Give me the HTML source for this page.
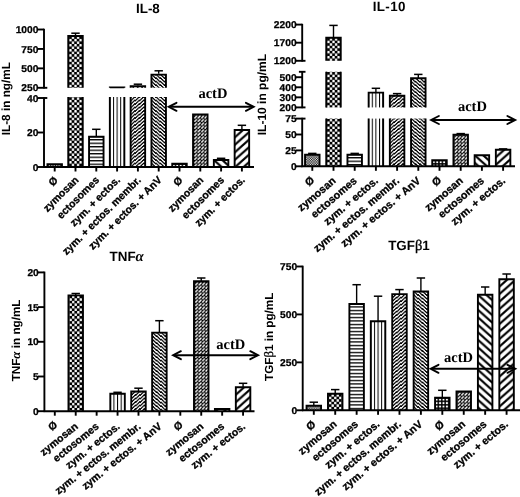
<!DOCTYPE html>
<html><head><meta charset="utf-8"><title>Cytokine release</title>
<style>
html,body{margin:0;padding:0;background:#fff;}
body{width:520px;height:497px;overflow:hidden;}
svg{display:block;will-change:transform;}
text{font-family:"Liberation Sans",sans-serif;font-weight:bold;fill:#000;text-rendering:geometricPrecision;}
.tt{font-size:13.4px;}
.yl{font-size:11.4px;}
.tk{font-size:9.9px;stroke:#000;stroke-width:0.25px;}
.xl{font-size:10.3px;stroke:#000;stroke-width:0.3px;}
.act{font-family:"Liberation Serif",serif;font-size:14.5px;font-weight:bold;}
.al{font-family:"Liberation Serif",serif;font-weight:bold;font-style:italic;font-size:14.8px;}
.aly{font-family:"Liberation Serif",serif;font-weight:bold;font-style:italic;font-size:13px;}
.be{font-family:"Liberation Serif",serif;font-weight:normal;font-size:14.5px;stroke:#000;stroke-width:0.35px;}
.bey{font-family:"Liberation Serif",serif;font-weight:normal;font-size:12.8px;stroke:#000;stroke-width:0.3px;}
</style></head>
<body>
<svg width="520" height="497" viewBox="0 0 520 497">
<rect x="0" y="0" width="520" height="497" fill="#fff"/>
<defs><pattern id="p1" width="1.7" height="1.7" patternUnits="userSpaceOnUse" patternTransform="translate(47.45,164.30)"><rect width="1.7" height="1.7" fill="#fff"/><rect x="0" y="0" width="0.85" height="0.85" fill="#000"/><rect x="0.85" y="0.85" width="0.85" height="0.85" fill="#000"/></pattern><pattern id="p2" width="5.1" height="5.1" patternUnits="userSpaceOnUse" patternTransform="translate(66.60,97.30)"><rect width="5.1" height="5.1" fill="#000"/><rect x="0.1" y="0.1" width="2.3499999999999996" height="2.3499999999999996" rx="0.4" fill="#fff"/><rect x="2.65" y="2.65" width="2.3499999999999996" height="2.3499999999999996" rx="0.4" fill="#fff"/></pattern><pattern id="p3" width="5.1" height="5.1" patternUnits="userSpaceOnUse" patternTransform="translate(66.60,36.30)"><rect width="5.1" height="5.1" fill="#000"/><rect x="0.1" y="0.1" width="2.3499999999999996" height="2.3499999999999996" rx="0.4" fill="#fff"/><rect x="2.65" y="2.65" width="2.3499999999999996" height="2.3499999999999996" rx="0.4" fill="#fff"/></pattern><pattern id="p4" width="4" height="3.5" patternUnits="userSpaceOnUse" patternTransform="translate(89.05,139.10)"><rect width="4" height="3.5" fill="#fff"/><rect x="0" y="0" width="4" height="1.3" fill="#000"/></pattern><pattern id="p5" width="3.62" height="4" patternUnits="userSpaceOnUse" patternTransform="translate(112.97,97.00)"><rect width="3.62" height="4" fill="#fff"/><rect x="0" y="0" width="1.0" height="4" fill="#000"/></pattern><pattern id="p6" width="3.62" height="4" patternUnits="userSpaceOnUse" patternTransform="translate(112.97,87.40)"><rect width="3.62" height="4" fill="#fff"/><rect x="0" y="0" width="1.0" height="4" fill="#000"/></pattern><pattern id="p7" width="4.4" height="3.5" patternUnits="userSpaceOnUse" patternTransform="translate(130.65,97.00)"><rect width="4.4" height="3.5" fill="#fff"/><path d="M-4.4,3.5 L4.4,-3.5 M0,3.5 L4.4,0 M0,7.0 L8.8,0" stroke="#000" stroke-width="1.4" shape-rendering="crispEdges"/></pattern><pattern id="p8" width="4.4" height="3.5" patternUnits="userSpaceOnUse" patternTransform="translate(130.65,86.20)"><rect width="4.4" height="3.5" fill="#fff"/><path d="M-4.4,3.5 L4.4,-3.5 M0,3.5 L4.4,0 M0,7.0 L8.8,0" stroke="#000" stroke-width="1.4" shape-rendering="crispEdges"/></pattern><pattern id="p9" width="4.4" height="3.5" patternUnits="userSpaceOnUse" patternTransform="translate(151.45,97.00)"><rect width="4.4" height="3.5" fill="#fff"/><path d="M-4.4,-3.5 L4.4,3.5 M0,-3.5 L8.8,3.5 M-4.4,0 L4.4,7.0" stroke="#000" stroke-width="1.4" shape-rendering="crispEdges"/></pattern><pattern id="p10" width="4.4" height="3.5" patternUnits="userSpaceOnUse" patternTransform="translate(151.45,74.60)"><rect width="4.4" height="3.5" fill="#fff"/><path d="M-4.4,-3.5 L4.4,3.5 M0,-3.5 L8.8,3.5 M-4.4,0 L4.4,7.0" stroke="#000" stroke-width="1.4" shape-rendering="crispEdges"/></pattern><pattern id="p11" width="3.45" height="3.45" patternUnits="userSpaceOnUse" patternTransform="translate(172.05,164.00)"><rect width="3.45" height="3.45" fill="#000"/><rect x="0.75" y="0.75" width="1.9500000000000002" height="1.9500000000000002" fill="#fff"/></pattern><pattern id="p12" width="3.45" height="3.45" patternUnits="userSpaceOnUse" patternTransform="translate(193.95,115.20)"><rect width="3.45" height="3.45" fill="#000"/><path d="M0.85,2.65 L2.65,0.85" stroke="#fff" stroke-width="1.4" stroke-linecap="round"/></pattern><pattern id="p13" width="8.4" height="7.5" patternUnits="userSpaceOnUse" patternTransform="translate(213.85,160.00)"><rect width="8.4" height="7.5" fill="#fff"/><path d="M-8.4,-7.5 L8.4,7.5 M0,-7.5 L16.8,7.5 M-8.4,0 L8.4,15.0" stroke="#000" stroke-width="2.15"/></pattern><pattern id="p14" width="8.4" height="7.5" patternUnits="userSpaceOnUse" patternTransform="translate(234.65,130.00)"><rect width="8.4" height="7.5" fill="#fff"/><path d="M-8.4,7.5 L8.4,-7.5 M0,7.5 L8.4,0 M0,15.0 L16.8,0" stroke="#000" stroke-width="2.15"/></pattern><pattern id="p15" width="1.7" height="1.7" patternUnits="userSpaceOnUse" patternTransform="translate(305.05,154.80)"><rect width="1.7" height="1.7" fill="#fff"/><rect x="0" y="0" width="0.85" height="0.85" fill="#000"/><rect x="0.85" y="0.85" width="0.85" height="0.85" fill="#000"/></pattern><pattern id="p16" width="5.1" height="5.1" patternUnits="userSpaceOnUse" patternTransform="translate(324.60,118.90)"><rect width="5.1" height="5.1" fill="#000"/><rect x="0.1" y="0.1" width="2.3499999999999996" height="2.3499999999999996" rx="0.4" fill="#fff"/><rect x="2.65" y="2.65" width="2.3499999999999996" height="2.3499999999999996" rx="0.4" fill="#fff"/></pattern><pattern id="p17" width="5.1" height="5.1" patternUnits="userSpaceOnUse" patternTransform="translate(324.60,72.10)"><rect width="5.1" height="5.1" fill="#000"/><rect x="0.1" y="0.1" width="2.3499999999999996" height="2.3499999999999996" rx="0.4" fill="#fff"/><rect x="2.65" y="2.65" width="2.3499999999999996" height="2.3499999999999996" rx="0.4" fill="#fff"/></pattern><pattern id="p18" width="5.1" height="5.1" patternUnits="userSpaceOnUse" patternTransform="translate(324.60,38.10)"><rect width="5.1" height="5.1" fill="#000"/><rect x="0.1" y="0.1" width="2.3499999999999996" height="2.3499999999999996" rx="0.4" fill="#fff"/><rect x="2.65" y="2.65" width="2.3499999999999996" height="2.3499999999999996" rx="0.4" fill="#fff"/></pattern><pattern id="p19" width="4" height="3.5" patternUnits="userSpaceOnUse" patternTransform="translate(347.45,157.10)"><rect width="4" height="3.5" fill="#fff"/><rect x="0" y="0" width="4" height="1.3" fill="#000"/></pattern><pattern id="p20" width="3.62" height="4" patternUnits="userSpaceOnUse" patternTransform="translate(371.77,118.60)"><rect width="3.62" height="4" fill="#fff"/><rect x="0" y="0" width="1.0" height="4" fill="#000"/></pattern><pattern id="p21" width="3.62" height="4" patternUnits="userSpaceOnUse" patternTransform="translate(371.77,92.60)"><rect width="3.62" height="4" fill="#fff"/><rect x="0" y="0" width="1.0" height="4" fill="#000"/></pattern><pattern id="p22" width="4.4" height="3.5" patternUnits="userSpaceOnUse" patternTransform="translate(389.85,118.60)"><rect width="4.4" height="3.5" fill="#fff"/><path d="M-4.4,3.5 L4.4,-3.5 M0,3.5 L4.4,0 M0,7.0 L8.8,0" stroke="#000" stroke-width="1.4" shape-rendering="crispEdges"/></pattern><pattern id="p23" width="4.4" height="3.5" patternUnits="userSpaceOnUse" patternTransform="translate(389.85,95.80)"><rect width="4.4" height="3.5" fill="#fff"/><path d="M-4.4,3.5 L4.4,-3.5 M0,3.5 L4.4,0 M0,7.0 L8.8,0" stroke="#000" stroke-width="1.4" shape-rendering="crispEdges"/></pattern><pattern id="p24" width="4.4" height="3.5" patternUnits="userSpaceOnUse" patternTransform="translate(411.05,118.60)"><rect width="4.4" height="3.5" fill="#fff"/><path d="M-4.4,-3.5 L4.4,3.5 M0,-3.5 L8.8,3.5 M-4.4,0 L4.4,7.0" stroke="#000" stroke-width="1.4" shape-rendering="crispEdges"/></pattern><pattern id="p25" width="4.4" height="3.5" patternUnits="userSpaceOnUse" patternTransform="translate(411.05,78.20)"><rect width="4.4" height="3.5" fill="#fff"/><path d="M-4.4,-3.5 L4.4,3.5 M0,-3.5 L8.8,3.5 M-4.4,0 L4.4,7.0" stroke="#000" stroke-width="1.4" shape-rendering="crispEdges"/></pattern><pattern id="p26" width="3.45" height="3.45" patternUnits="userSpaceOnUse" patternTransform="translate(432.05,160.40)"><rect width="3.45" height="3.45" fill="#000"/><rect x="0.75" y="0.75" width="1.9500000000000002" height="1.9500000000000002" fill="#fff"/></pattern><pattern id="p27" width="3.45" height="3.45" patternUnits="userSpaceOnUse" patternTransform="translate(454.35,135.60)"><rect width="3.45" height="3.45" fill="#000"/><path d="M0.85,2.65 L2.65,0.85" stroke="#fff" stroke-width="1.4" stroke-linecap="round"/></pattern><pattern id="p28" width="8.4" height="7.5" patternUnits="userSpaceOnUse" patternTransform="translate(474.65,155.20)"><rect width="8.4" height="7.5" fill="#fff"/><path d="M-8.4,-7.5 L8.4,7.5 M0,-7.5 L16.8,7.5 M-8.4,0 L8.4,15.0" stroke="#000" stroke-width="2.15"/></pattern><pattern id="p29" width="8.4" height="7.5" patternUnits="userSpaceOnUse" patternTransform="translate(495.85,149.80)"><rect width="8.4" height="7.5" fill="#fff"/><path d="M-8.4,7.5 L8.4,-7.5 M0,7.5 L8.4,0 M0,15.0 L16.8,0" stroke="#000" stroke-width="2.15"/></pattern><pattern id="p30" width="5.1" height="5.1" patternUnits="userSpaceOnUse" patternTransform="translate(66.82,295.70)"><rect width="5.1" height="5.1" fill="#000"/><rect x="0.1" y="0.1" width="2.3499999999999996" height="2.3499999999999996" rx="0.4" fill="#fff"/><rect x="2.65" y="2.65" width="2.3499999999999996" height="2.3499999999999996" rx="0.4" fill="#fff"/></pattern><pattern id="p31" width="3.62" height="4" patternUnits="userSpaceOnUse" patternTransform="translate(113.43,393.80)"><rect width="3.62" height="4" fill="#fff"/><rect x="0" y="0" width="1.0" height="4" fill="#000"/></pattern><pattern id="p32" width="4.4" height="3.5" patternUnits="userSpaceOnUse" patternTransform="translate(131.23,391.50)"><rect width="4.4" height="3.5" fill="#fff"/><path d="M-4.4,3.5 L4.4,-3.5 M0,3.5 L4.4,0 M0,7.0 L8.8,0" stroke="#000" stroke-width="1.4" shape-rendering="crispEdges"/></pattern><pattern id="p33" width="4.4" height="3.5" patternUnits="userSpaceOnUse" patternTransform="translate(152.15,332.60)"><rect width="4.4" height="3.5" fill="#fff"/><path d="M-4.4,-3.5 L4.4,3.5 M0,-3.5 L8.8,3.5 M-4.4,0 L4.4,7.0" stroke="#000" stroke-width="1.4" shape-rendering="crispEdges"/></pattern><pattern id="p34" width="3.45" height="3.45" patternUnits="userSpaceOnUse" patternTransform="translate(194.89,282.10)"><rect width="3.45" height="3.45" fill="#000"/><path d="M0.85,2.65 L2.65,0.85" stroke="#fff" stroke-width="1.4" stroke-linecap="round"/></pattern><pattern id="p35" width="8.4" height="7.5" patternUnits="userSpaceOnUse" patternTransform="translate(214.91,409.00)"><rect width="8.4" height="7.5" fill="#fff"/><path d="M-8.4,-7.5 L8.4,7.5 M0,-7.5 L16.8,7.5 M-8.4,0 L8.4,15.0" stroke="#000" stroke-width="2.15"/></pattern><pattern id="p36" width="8.4" height="7.5" patternUnits="userSpaceOnUse" patternTransform="translate(235.83,387.20)"><rect width="8.4" height="7.5" fill="#fff"/><path d="M-8.4,7.5 L8.4,-7.5 M0,7.5 L8.4,0 M0,15.0 L16.8,0" stroke="#000" stroke-width="2.15"/></pattern><pattern id="p37" width="1.7" height="1.7" patternUnits="userSpaceOnUse" patternTransform="translate(306.55,405.80)"><rect width="1.7" height="1.7" fill="#fff"/><rect x="0" y="0" width="0.85" height="0.85" fill="#000"/><rect x="0.85" y="0.85" width="0.85" height="0.85" fill="#000"/></pattern><pattern id="p38" width="5.1" height="5.1" patternUnits="userSpaceOnUse" patternTransform="translate(326.32,394.10)"><rect width="5.1" height="5.1" fill="#000"/><rect x="0.1" y="0.1" width="2.3499999999999996" height="2.3499999999999996" rx="0.4" fill="#fff"/><rect x="2.65" y="2.65" width="2.3499999999999996" height="2.3499999999999996" rx="0.4" fill="#fff"/></pattern><pattern id="p39" width="4" height="3.5" patternUnits="userSpaceOnUse" patternTransform="translate(349.39,306.30)"><rect width="4" height="3.5" fill="#fff"/><rect x="0" y="0" width="4" height="1.3" fill="#000"/></pattern><pattern id="p40" width="3.62" height="4" patternUnits="userSpaceOnUse" patternTransform="translate(373.93,321.20)"><rect width="3.62" height="4" fill="#fff"/><rect x="0" y="0" width="1.0" height="4" fill="#000"/></pattern><pattern id="p41" width="4.4" height="3.5" patternUnits="userSpaceOnUse" patternTransform="translate(392.23,294.10)"><rect width="4.4" height="3.5" fill="#fff"/><path d="M-4.4,3.5 L4.4,-3.5 M0,3.5 L4.4,0 M0,7.0 L8.8,0" stroke="#000" stroke-width="1.4" shape-rendering="crispEdges"/></pattern><pattern id="p42" width="4.4" height="3.5" patternUnits="userSpaceOnUse" patternTransform="translate(413.65,291.50)"><rect width="4.4" height="3.5" fill="#fff"/><path d="M-4.4,-3.5 L4.4,3.5 M0,-3.5 L8.8,3.5 M-4.4,0 L4.4,7.0" stroke="#000" stroke-width="1.4" shape-rendering="crispEdges"/></pattern><pattern id="p43" width="3.45" height="3.45" patternUnits="userSpaceOnUse" patternTransform="translate(434.87,397.90)"><rect width="3.45" height="3.45" fill="#000"/><rect x="0.75" y="0.75" width="1.9500000000000002" height="1.9500000000000002" fill="#fff"/></pattern><pattern id="p44" width="3.45" height="3.45" patternUnits="userSpaceOnUse" patternTransform="translate(457.39,392.30)"><rect width="3.45" height="3.45" fill="#000"/><path d="M0.85,2.65 L2.65,0.85" stroke="#fff" stroke-width="1.4" stroke-linecap="round"/></pattern><pattern id="p45" width="8.4" height="7.5" patternUnits="userSpaceOnUse" patternTransform="translate(477.91,294.80)"><rect width="8.4" height="7.5" fill="#fff"/><path d="M-8.4,-7.5 L8.4,7.5 M0,-7.5 L16.8,7.5 M-8.4,0 L8.4,15.0" stroke="#000" stroke-width="2.15"/></pattern><pattern id="p46" width="8.4" height="7.5" patternUnits="userSpaceOnUse" patternTransform="translate(499.33,279.20)"><rect width="8.4" height="7.5" fill="#fff"/><path d="M-8.4,7.5 L8.4,-7.5 M0,7.5 L8.4,0 M0,15.0 L16.8,0" stroke="#000" stroke-width="2.15"/></pattern></defs>
<text x="147.9" y="13.1" text-anchor="middle" class="tt">IL-8</text>
<text transform="translate(10.0,98.65) rotate(-90)" text-anchor="middle" class="yl" style="font-size:11.8px">IL-8 in ng/mL</text>
<line x1="44.00" y1="28.70" x2="44.00" y2="88.60" stroke="#000" stroke-width="1.9"/>
<line x1="44.00" y1="97.20" x2="44.00" y2="167.80" stroke="#000" stroke-width="1.9"/>
<line x1="43.20" y1="167.00" x2="254.00" y2="167.00" stroke="#000" stroke-width="1.9"/>
<line x1="37.60" y1="29.50" x2="44.00" y2="29.50" stroke="#000" stroke-width="1.9"/>
<text transform="translate(38.40,33.10) scale(1.035,1)" text-anchor="end" class="tk">1000</text>
<line x1="37.60" y1="48.93" x2="44.00" y2="48.93" stroke="#000" stroke-width="1.9"/>
<text transform="translate(38.40,52.53) scale(1.035,1)" text-anchor="end" class="tk">750</text>
<line x1="37.60" y1="68.37" x2="44.00" y2="68.37" stroke="#000" stroke-width="1.9"/>
<text transform="translate(38.40,71.97) scale(1.035,1)" text-anchor="end" class="tk">500</text>
<line x1="37.60" y1="87.80" x2="47.30" y2="87.80" stroke="#000" stroke-width="1.9"/>
<text transform="translate(38.40,91.40) scale(1.035,1)" text-anchor="end" class="tk">250</text>
<line x1="37.60" y1="98.00" x2="47.30" y2="98.00" stroke="#000" stroke-width="1.9"/>
<text transform="translate(38.40,101.60) scale(1.035,1)" text-anchor="end" class="tk">40</text>
<line x1="37.60" y1="132.50" x2="44.00" y2="132.50" stroke="#000" stroke-width="1.9"/>
<text transform="translate(38.40,136.10) scale(1.035,1)" text-anchor="end" class="tk">20</text>
<line x1="37.60" y1="167.00" x2="44.00" y2="167.00" stroke="#000" stroke-width="1.9"/>
<text transform="translate(38.40,170.60) scale(1.035,1)" text-anchor="end" class="tk">0</text>
<rect x="47.45" y="164.30" width="14.50" height="2.70" fill="url(#p1)" stroke="none"/>
<path d="M47.45,167.00 L47.45,164.30 L61.95,164.30 L61.95,167.00" fill="none" stroke="#000" stroke-width="1.9" stroke-linejoin="miter"/>
<rect x="68.25" y="97.00" width="14.50" height="70.00" fill="url(#p2)" stroke="none"/>
<path d="M68.25,167.00 L68.25,97.00 M82.75,97.00 L82.75,167.00" fill="none" stroke="#000" stroke-width="1.9"/>
<line x1="75.50" y1="35.20" x2="75.50" y2="33.20" stroke="#000" stroke-width="1.4"/>
<line x1="71.30" y1="33.20" x2="79.70" y2="33.20" stroke="#000" stroke-width="1.5"/>
<rect x="68.25" y="36.00" width="14.50" height="51.80" fill="url(#p3)" stroke="none"/>
<path d="M68.25,87.80 L68.25,36.00 L82.75,36.00 L82.75,87.80" fill="none" stroke="#000" stroke-width="1.9" stroke-linejoin="miter"/>
<line x1="96.30" y1="136.00" x2="96.30" y2="129.30" stroke="#000" stroke-width="1.4"/>
<line x1="92.10" y1="129.30" x2="100.50" y2="129.30" stroke="#000" stroke-width="1.5"/>
<rect x="89.05" y="136.80" width="14.50" height="30.20" fill="url(#p4)" stroke="none"/>
<path d="M89.05,167.00 L89.05,136.80 L103.55,136.80 L103.55,167.00" fill="none" stroke="#000" stroke-width="1.9" stroke-linejoin="miter"/>
<rect x="109.85" y="97.00" width="14.50" height="70.00" fill="url(#p5)" stroke="none"/>
<path d="M109.85,167.00 L109.85,97.00 M124.35,97.00 L124.35,167.00" fill="none" stroke="#000" stroke-width="1.9"/>
<rect x="109.85" y="87.40" width="14.50" height="0.40" fill="url(#p6)" stroke="none"/>
<path d="M109.85,87.80 L109.85,87.40 L124.35,87.40 L124.35,87.80" fill="none" stroke="#000" stroke-width="1.9" stroke-linejoin="miter"/>
<rect x="130.65" y="97.00" width="14.50" height="70.00" fill="url(#p7)" stroke="none"/>
<path d="M130.65,167.00 L130.65,97.00 M145.15,97.00 L145.15,167.00" fill="none" stroke="#000" stroke-width="1.9"/>
<line x1="137.90" y1="85.40" x2="137.90" y2="84.20" stroke="#000" stroke-width="1.4"/>
<line x1="133.70" y1="84.20" x2="142.10" y2="84.20" stroke="#000" stroke-width="1.5"/>
<rect x="130.65" y="86.20" width="14.50" height="1.60" fill="url(#p8)" stroke="none"/>
<path d="M130.65,87.80 L130.65,86.20 L145.15,86.20 L145.15,87.80" fill="none" stroke="#000" stroke-width="1.9" stroke-linejoin="miter"/>
<rect x="151.45" y="97.00" width="14.50" height="70.00" fill="url(#p9)" stroke="none"/>
<path d="M151.45,167.00 L151.45,97.00 M165.95,97.00 L165.95,167.00" fill="none" stroke="#000" stroke-width="1.9"/>
<line x1="158.70" y1="73.80" x2="158.70" y2="70.80" stroke="#000" stroke-width="1.4"/>
<line x1="154.50" y1="70.80" x2="162.90" y2="70.80" stroke="#000" stroke-width="1.5"/>
<rect x="151.45" y="74.60" width="14.50" height="13.20" fill="url(#p10)" stroke="none"/>
<path d="M151.45,87.80 L151.45,74.60 L165.95,74.60 L165.95,87.80" fill="none" stroke="#000" stroke-width="1.9" stroke-linejoin="miter"/>
<rect x="172.25" y="163.80" width="14.50" height="3.20" fill="url(#p11)" stroke="none"/>
<path d="M172.25,167.00 L172.25,163.80 L186.75,163.80 L186.75,167.00" fill="none" stroke="#000" stroke-width="1.9" stroke-linejoin="miter"/>
<rect x="193.05" y="114.40" width="14.50" height="52.60" fill="url(#p12)" stroke="none"/>
<path d="M193.05,167.00 L193.05,114.40 L207.55,114.40 L207.55,167.00" fill="none" stroke="#000" stroke-width="1.9" stroke-linejoin="miter"/>
<line x1="221.10" y1="159.20" x2="221.10" y2="158.30" stroke="#000" stroke-width="1.4"/>
<line x1="216.90" y1="158.30" x2="225.30" y2="158.30" stroke="#000" stroke-width="1.5"/>
<rect x="213.85" y="160.00" width="14.50" height="7.00" fill="url(#p13)" stroke="none"/>
<path d="M213.85,167.00 L213.85,160.00 L228.35,160.00 L228.35,167.00" fill="none" stroke="#000" stroke-width="1.9" stroke-linejoin="miter"/>
<line x1="241.90" y1="129.20" x2="241.90" y2="125.30" stroke="#000" stroke-width="1.4"/>
<line x1="237.70" y1="125.30" x2="246.10" y2="125.30" stroke="#000" stroke-width="1.5"/>
<rect x="234.65" y="130.00" width="14.50" height="37.00" fill="url(#p14)" stroke="none"/>
<path d="M234.65,167.00 L234.65,130.00 L249.15,130.00 L249.15,167.00" fill="none" stroke="#000" stroke-width="1.9" stroke-linejoin="miter"/>
<line x1="43.20" y1="167.00" x2="254.00" y2="167.00" stroke="#000" stroke-width="1.9"/>
<line x1="54.70" y1="167.00" x2="54.70" y2="171.50" stroke="#000" stroke-width="1.9"/>
<text transform="translate(53.00,181.30) rotate(-45)" text-anchor="middle" class="xl" style="font-size:10.52px" dy="3.6">Ø</text>
<line x1="75.50" y1="167.00" x2="75.50" y2="171.50" stroke="#000" stroke-width="1.9"/>
<text transform="translate(79.20,180.60) rotate(-45)" text-anchor="end" class="xl" style="font-size:10.52px">zymosan</text>
<line x1="96.30" y1="167.00" x2="96.30" y2="171.50" stroke="#000" stroke-width="1.9"/>
<text transform="translate(100.00,180.60) rotate(-45)" text-anchor="end" class="xl" style="font-size:10.52px">ectosomes</text>
<line x1="117.10" y1="167.00" x2="117.10" y2="171.50" stroke="#000" stroke-width="1.9"/>
<text transform="translate(120.80,180.60) rotate(-45)" text-anchor="end" class="xl" style="font-size:10.52px">zym. + ectos.</text>
<line x1="137.90" y1="167.00" x2="137.90" y2="171.50" stroke="#000" stroke-width="1.9"/>
<text transform="translate(141.60,180.60) rotate(-45)" text-anchor="end" class="xl" style="font-size:10.52px">zym. + ectos. membr.</text>
<line x1="158.70" y1="167.00" x2="158.70" y2="171.50" stroke="#000" stroke-width="1.9"/>
<text transform="translate(162.40,180.60) rotate(-45)" text-anchor="end" class="xl" style="font-size:10.52px">zym. + ectos. + AnV</text>
<line x1="179.50" y1="167.00" x2="179.50" y2="171.50" stroke="#000" stroke-width="1.9"/>
<text transform="translate(177.80,181.30) rotate(-45)" text-anchor="middle" class="xl" style="font-size:10.52px" dy="3.6">Ø</text>
<line x1="200.30" y1="167.00" x2="200.30" y2="171.50" stroke="#000" stroke-width="1.9"/>
<text transform="translate(204.00,180.60) rotate(-45)" text-anchor="end" class="xl" style="font-size:10.52px">zymosan</text>
<line x1="221.10" y1="167.00" x2="221.10" y2="171.50" stroke="#000" stroke-width="1.9"/>
<text transform="translate(224.80,180.60) rotate(-45)" text-anchor="end" class="xl" style="font-size:10.52px">ectosomes</text>
<line x1="241.90" y1="167.00" x2="241.90" y2="171.50" stroke="#000" stroke-width="1.9"/>
<text transform="translate(245.60,180.60) rotate(-45)" text-anchor="end" class="xl" style="font-size:10.52px">zym. + ectos.</text>
<line x1="169.80" y1="106.80" x2="252.60" y2="106.80" stroke="#000" stroke-width="1.9"/>
<path d="M176.50,102.80 L168.70,106.80 L176.50,110.80" fill="none" stroke="#000" stroke-width="1.9" stroke-linejoin="miter" stroke-linecap="round"/>
<path d="M245.90,102.80 L253.70,106.80 L245.90,110.80" fill="none" stroke="#000" stroke-width="1.9" stroke-linejoin="miter" stroke-linecap="round"/>
<text x="212.90" y="97.50" text-anchor="middle" class="act">actD</text>
<text x="389.3" y="11.0" text-anchor="middle" class="tt" style="letter-spacing:0.4px">IL-10</text>
<text transform="translate(266.4,94.6) rotate(-90)" text-anchor="middle" class="yl" style="font-size:12px">IL-10 in pg/mL</text>
<line x1="302.20" y1="23.80" x2="302.20" y2="61.60" stroke="#000" stroke-width="1.9"/>
<line x1="302.20" y1="71.00" x2="302.20" y2="108.20" stroke="#000" stroke-width="1.9"/>
<line x1="302.20" y1="117.80" x2="302.20" y2="167.10" stroke="#000" stroke-width="1.9"/>
<line x1="295.80" y1="24.60" x2="302.20" y2="24.60" stroke="#000" stroke-width="1.9"/>
<text transform="translate(296.60,28.20) scale(1.035,1)" text-anchor="end" class="tk">2200</text>
<line x1="295.80" y1="42.70" x2="302.20" y2="42.70" stroke="#000" stroke-width="1.9"/>
<text transform="translate(296.60,46.30) scale(1.035,1)" text-anchor="end" class="tk">1700</text>
<line x1="295.80" y1="60.80" x2="305.50" y2="60.80" stroke="#000" stroke-width="1.9"/>
<text transform="translate(296.60,64.40) scale(1.035,1)" text-anchor="end" class="tk">1200</text>
<line x1="298.90" y1="71.80" x2="305.50" y2="71.80" stroke="#000" stroke-width="1.9"/>
<line x1="295.80" y1="77.20" x2="302.20" y2="77.20" stroke="#000" stroke-width="1.9"/>
<text transform="translate(296.60,80.80) scale(1.035,1)" text-anchor="end" class="tk">500</text>
<line x1="295.80" y1="87.27" x2="302.20" y2="87.27" stroke="#000" stroke-width="1.9"/>
<text transform="translate(296.60,90.87) scale(1.035,1)" text-anchor="end" class="tk">400</text>
<line x1="295.80" y1="97.33" x2="302.20" y2="97.33" stroke="#000" stroke-width="1.9"/>
<text transform="translate(296.60,100.93) scale(1.035,1)" text-anchor="end" class="tk">300</text>
<line x1="295.80" y1="107.40" x2="305.50" y2="107.40" stroke="#000" stroke-width="1.9"/>
<text transform="translate(296.60,111.00) scale(1.035,1)" text-anchor="end" class="tk">200</text>
<line x1="295.80" y1="118.60" x2="305.50" y2="118.60" stroke="#000" stroke-width="1.9"/>
<text transform="translate(296.60,122.20) scale(1.035,1)" text-anchor="end" class="tk">75</text>
<line x1="295.80" y1="134.50" x2="302.20" y2="134.50" stroke="#000" stroke-width="1.9"/>
<text transform="translate(296.60,138.10) scale(1.035,1)" text-anchor="end" class="tk">50</text>
<line x1="295.80" y1="150.40" x2="302.20" y2="150.40" stroke="#000" stroke-width="1.9"/>
<text transform="translate(296.60,154.00) scale(1.035,1)" text-anchor="end" class="tk">25</text>
<line x1="295.80" y1="166.30" x2="302.20" y2="166.30" stroke="#000" stroke-width="1.9"/>
<text transform="translate(296.60,169.90) scale(1.035,1)" text-anchor="end" class="tk">0</text>
<line x1="312.30" y1="154.60" x2="312.30" y2="153.40" stroke="#000" stroke-width="1.4"/>
<line x1="308.10" y1="153.40" x2="316.50" y2="153.40" stroke="#000" stroke-width="1.5"/>
<rect x="305.05" y="154.80" width="14.50" height="11.50" fill="url(#p15)" stroke="none"/>
<path d="M305.05,166.30 L305.05,154.80 L319.55,154.80 L319.55,166.30" fill="none" stroke="#000" stroke-width="1.9" stroke-linejoin="miter"/>
<rect x="326.25" y="118.60" width="14.50" height="47.70" fill="url(#p16)" stroke="none"/>
<path d="M326.25,166.30 L326.25,118.60 M340.75,118.60 L340.75,166.30" fill="none" stroke="#000" stroke-width="1.9"/>
<rect x="326.25" y="71.80" width="14.50" height="35.60" fill="url(#p17)" stroke="none"/>
<path d="M326.25,107.40 L326.25,71.80 M340.75,71.80 L340.75,107.40" fill="none" stroke="#000" stroke-width="1.9"/>
<line x1="333.50" y1="37.60" x2="333.50" y2="25.40" stroke="#000" stroke-width="1.4"/>
<line x1="329.30" y1="25.40" x2="337.70" y2="25.40" stroke="#000" stroke-width="1.5"/>
<rect x="326.25" y="37.80" width="14.50" height="23.00" fill="url(#p18)" stroke="none"/>
<path d="M326.25,60.80 L326.25,37.80 L340.75,37.80 L340.75,60.80" fill="none" stroke="#000" stroke-width="1.9" stroke-linejoin="miter"/>
<line x1="354.70" y1="154.60" x2="354.70" y2="153.40" stroke="#000" stroke-width="1.4"/>
<line x1="350.50" y1="153.40" x2="358.90" y2="153.40" stroke="#000" stroke-width="1.5"/>
<rect x="347.45" y="154.80" width="14.50" height="11.50" fill="url(#p19)" stroke="none"/>
<path d="M347.45,166.30 L347.45,154.80 L361.95,154.80 L361.95,166.30" fill="none" stroke="#000" stroke-width="1.9" stroke-linejoin="miter"/>
<rect x="368.65" y="118.60" width="14.50" height="47.70" fill="url(#p20)" stroke="none"/>
<path d="M368.65,166.30 L368.65,118.60 M383.15,118.60 L383.15,166.30" fill="none" stroke="#000" stroke-width="1.9"/>
<line x1="375.90" y1="92.40" x2="375.90" y2="88.30" stroke="#000" stroke-width="1.4"/>
<line x1="371.70" y1="88.30" x2="380.10" y2="88.30" stroke="#000" stroke-width="1.5"/>
<rect x="368.65" y="92.60" width="14.50" height="14.80" fill="url(#p21)" stroke="none"/>
<path d="M368.65,107.40 L368.65,92.60 L383.15,92.60 L383.15,107.40" fill="none" stroke="#000" stroke-width="1.9" stroke-linejoin="miter"/>
<rect x="389.85" y="118.60" width="14.50" height="47.70" fill="url(#p22)" stroke="none"/>
<path d="M389.85,166.30 L389.85,118.60 M404.35,118.60 L404.35,166.30" fill="none" stroke="#000" stroke-width="1.9"/>
<line x1="397.10" y1="95.60" x2="397.10" y2="93.60" stroke="#000" stroke-width="1.4"/>
<line x1="392.90" y1="93.60" x2="401.30" y2="93.60" stroke="#000" stroke-width="1.5"/>
<rect x="389.85" y="95.80" width="14.50" height="11.60" fill="url(#p23)" stroke="none"/>
<path d="M389.85,107.40 L389.85,95.80 L404.35,95.80 L404.35,107.40" fill="none" stroke="#000" stroke-width="1.9" stroke-linejoin="miter"/>
<rect x="411.05" y="118.60" width="14.50" height="47.70" fill="url(#p24)" stroke="none"/>
<path d="M411.05,166.30 L411.05,118.60 M425.55,118.60 L425.55,166.30" fill="none" stroke="#000" stroke-width="1.9"/>
<line x1="418.30" y1="78.00" x2="418.30" y2="74.40" stroke="#000" stroke-width="1.4"/>
<line x1="414.10" y1="74.40" x2="422.50" y2="74.40" stroke="#000" stroke-width="1.5"/>
<rect x="411.05" y="78.20" width="14.50" height="29.20" fill="url(#p25)" stroke="none"/>
<path d="M411.05,107.40 L411.05,78.20 L425.55,78.20 L425.55,107.40" fill="none" stroke="#000" stroke-width="1.9" stroke-linejoin="miter"/>
<rect x="432.25" y="160.20" width="14.50" height="6.10" fill="url(#p26)" stroke="none"/>
<path d="M432.25,166.30 L432.25,160.20 L446.75,160.20 L446.75,166.30" fill="none" stroke="#000" stroke-width="1.9" stroke-linejoin="miter"/>
<line x1="460.70" y1="134.60" x2="460.70" y2="133.60" stroke="#000" stroke-width="1.4"/>
<line x1="456.50" y1="133.60" x2="464.90" y2="133.60" stroke="#000" stroke-width="1.5"/>
<rect x="453.45" y="134.80" width="14.50" height="31.50" fill="url(#p27)" stroke="none"/>
<path d="M453.45,166.30 L453.45,134.80 L467.95,134.80 L467.95,166.30" fill="none" stroke="#000" stroke-width="1.9" stroke-linejoin="miter"/>
<rect x="474.65" y="155.20" width="14.50" height="11.10" fill="url(#p28)" stroke="none"/>
<path d="M474.65,166.30 L474.65,155.20 L489.15,155.20 L489.15,166.30" fill="none" stroke="#000" stroke-width="1.9" stroke-linejoin="miter"/>
<line x1="503.10" y1="149.60" x2="503.10" y2="148.90" stroke="#000" stroke-width="1.4"/>
<line x1="498.90" y1="148.90" x2="507.30" y2="148.90" stroke="#000" stroke-width="1.5"/>
<rect x="495.85" y="149.80" width="14.50" height="16.50" fill="url(#p29)" stroke="none"/>
<path d="M495.85,166.30 L495.85,149.80 L510.35,149.80 L510.35,166.30" fill="none" stroke="#000" stroke-width="1.9" stroke-linejoin="miter"/>
<line x1="301.40" y1="166.30" x2="515.00" y2="166.30" stroke="#000" stroke-width="1.9"/>
<line x1="312.30" y1="166.30" x2="312.30" y2="170.80" stroke="#000" stroke-width="1.9"/>
<text transform="translate(309.50,181.30) rotate(-40.5)" text-anchor="middle" class="xl" style="font-size:10.8px" dy="3.6">Ø</text>
<line x1="333.50" y1="166.30" x2="333.50" y2="170.80" stroke="#000" stroke-width="1.9"/>
<text transform="translate(336.50,181.80) rotate(-40.5)" text-anchor="end" class="xl" style="font-size:10.8px">zymosan</text>
<line x1="354.70" y1="166.30" x2="354.70" y2="170.80" stroke="#000" stroke-width="1.9"/>
<text transform="translate(357.70,181.80) rotate(-40.5)" text-anchor="end" class="xl" style="font-size:10.8px">ectosomes</text>
<line x1="375.90" y1="166.30" x2="375.90" y2="170.80" stroke="#000" stroke-width="1.9"/>
<text transform="translate(378.90,181.80) rotate(-40.5)" text-anchor="end" class="xl" style="font-size:10.8px">zym. + ectos.</text>
<line x1="397.10" y1="166.30" x2="397.10" y2="170.80" stroke="#000" stroke-width="1.9"/>
<text transform="translate(400.10,181.80) rotate(-40.5)" text-anchor="end" class="xl" style="font-size:10.8px">zym. + ectos. membr.</text>
<line x1="418.30" y1="166.30" x2="418.30" y2="170.80" stroke="#000" stroke-width="1.9"/>
<text transform="translate(421.30,181.80) rotate(-40.5)" text-anchor="end" class="xl" style="font-size:10.8px">zym. + ectos. + AnV</text>
<line x1="439.50" y1="166.30" x2="439.50" y2="170.80" stroke="#000" stroke-width="1.9"/>
<text transform="translate(436.70,181.30) rotate(-40.5)" text-anchor="middle" class="xl" style="font-size:10.8px" dy="3.6">Ø</text>
<line x1="460.70" y1="166.30" x2="460.70" y2="170.80" stroke="#000" stroke-width="1.9"/>
<text transform="translate(463.70,181.80) rotate(-40.5)" text-anchor="end" class="xl" style="font-size:10.8px">zymosan</text>
<line x1="481.90" y1="166.30" x2="481.90" y2="170.80" stroke="#000" stroke-width="1.9"/>
<text transform="translate(484.90,181.80) rotate(-40.5)" text-anchor="end" class="xl" style="font-size:10.8px">ectosomes</text>
<line x1="503.10" y1="166.30" x2="503.10" y2="170.80" stroke="#000" stroke-width="1.9"/>
<text transform="translate(506.10,181.80) rotate(-40.5)" text-anchor="end" class="xl" style="font-size:10.8px">zym. + ectos.</text>
<line x1="432.20" y1="120.00" x2="514.10" y2="120.00" stroke="#000" stroke-width="1.9"/>
<path d="M438.90,116.00 L431.10,120.00 L438.90,124.00" fill="none" stroke="#000" stroke-width="1.9" stroke-linejoin="miter" stroke-linecap="round"/>
<path d="M507.40,116.00 L515.20,120.00 L507.40,124.00" fill="none" stroke="#000" stroke-width="1.9" stroke-linejoin="miter" stroke-linecap="round"/>
<text x="472.40" y="111.40" text-anchor="middle" class="act">actD</text>
<text x="126.7" y="261.3" text-anchor="middle" class="tt">TNF<tspan class="al">α</tspan></text>
<text transform="translate(20.3,340.45) rotate(-90)" text-anchor="middle" class="yl" style="font-size:11.7px">TNF<tspan class="aly">α</tspan> in ng/mL</text>
<line x1="44.40" y1="271.60" x2="44.40" y2="412.00" stroke="#000" stroke-width="1.9"/>
<line x1="38.00" y1="272.40" x2="44.40" y2="272.40" stroke="#000" stroke-width="1.9"/>
<text transform="translate(38.80,276.00) scale(1.035,1)" text-anchor="end" class="tk">20</text>
<line x1="38.00" y1="307.10" x2="44.40" y2="307.10" stroke="#000" stroke-width="1.9"/>
<text transform="translate(38.80,310.70) scale(1.035,1)" text-anchor="end" class="tk">15</text>
<line x1="38.00" y1="341.80" x2="44.40" y2="341.80" stroke="#000" stroke-width="1.9"/>
<text transform="translate(38.80,345.40) scale(1.035,1)" text-anchor="end" class="tk">10</text>
<line x1="38.00" y1="376.50" x2="44.40" y2="376.50" stroke="#000" stroke-width="1.9"/>
<text transform="translate(38.80,380.10) scale(1.035,1)" text-anchor="end" class="tk">5</text>
<line x1="38.00" y1="411.20" x2="44.40" y2="411.20" stroke="#000" stroke-width="1.9"/>
<text transform="translate(38.80,414.80) scale(1.035,1)" text-anchor="end" class="tk">0</text>
<line x1="75.72" y1="295.10" x2="75.72" y2="293.50" stroke="#000" stroke-width="1.4"/>
<line x1="71.52" y1="293.50" x2="79.92" y2="293.50" stroke="#000" stroke-width="1.5"/>
<rect x="68.47" y="295.40" width="14.50" height="115.80" fill="url(#p30)" stroke="none"/>
<path d="M68.47,411.20 L68.47,295.40 L82.97,295.40 L82.97,411.20" fill="none" stroke="#000" stroke-width="1.9" stroke-linejoin="miter"/>
<line x1="117.56" y1="393.50" x2="117.56" y2="392.30" stroke="#000" stroke-width="1.4"/>
<line x1="113.36" y1="392.30" x2="121.76" y2="392.30" stroke="#000" stroke-width="1.5"/>
<rect x="110.31" y="393.80" width="14.50" height="17.40" fill="url(#p31)" stroke="none"/>
<path d="M110.31,411.20 L110.31,393.80 L124.81,393.80 L124.81,411.20" fill="none" stroke="#000" stroke-width="1.9" stroke-linejoin="miter"/>
<line x1="138.48" y1="391.20" x2="138.48" y2="388.20" stroke="#000" stroke-width="1.4"/>
<line x1="134.28" y1="388.20" x2="142.68" y2="388.20" stroke="#000" stroke-width="1.5"/>
<rect x="131.23" y="391.50" width="14.50" height="19.70" fill="url(#p32)" stroke="none"/>
<path d="M131.23,411.20 L131.23,391.50 L145.73,391.50 L145.73,411.20" fill="none" stroke="#000" stroke-width="1.9" stroke-linejoin="miter"/>
<line x1="159.40" y1="332.30" x2="159.40" y2="320.70" stroke="#000" stroke-width="1.4"/>
<line x1="155.20" y1="320.70" x2="163.60" y2="320.70" stroke="#000" stroke-width="1.5"/>
<rect x="152.15" y="332.60" width="14.50" height="78.60" fill="url(#p33)" stroke="none"/>
<path d="M152.15,411.20 L152.15,332.60 L166.65,332.60 L166.65,411.20" fill="none" stroke="#000" stroke-width="1.9" stroke-linejoin="miter"/>
<line x1="201.24" y1="281.00" x2="201.24" y2="278.00" stroke="#000" stroke-width="1.4"/>
<line x1="197.04" y1="278.00" x2="205.44" y2="278.00" stroke="#000" stroke-width="1.5"/>
<rect x="193.99" y="281.30" width="14.50" height="129.90" fill="url(#p34)" stroke="none"/>
<path d="M193.99,411.20 L193.99,281.30 L208.49,281.30 L208.49,411.20" fill="none" stroke="#000" stroke-width="1.9" stroke-linejoin="miter"/>
<rect x="214.91" y="409.00" width="14.50" height="2.20" fill="url(#p35)" stroke="none"/>
<path d="M214.91,411.20 L214.91,409.00 L229.41,409.00 L229.41,411.20" fill="none" stroke="#000" stroke-width="1.9" stroke-linejoin="miter"/>
<line x1="243.08" y1="386.90" x2="243.08" y2="383.30" stroke="#000" stroke-width="1.4"/>
<line x1="238.88" y1="383.30" x2="247.28" y2="383.30" stroke="#000" stroke-width="1.5"/>
<rect x="235.83" y="387.20" width="14.50" height="24.00" fill="url(#p36)" stroke="none"/>
<path d="M235.83,411.20 L235.83,387.20 L250.33,387.20 L250.33,411.20" fill="none" stroke="#000" stroke-width="1.9" stroke-linejoin="miter"/>
<line x1="43.60" y1="411.20" x2="254.50" y2="411.20" stroke="#000" stroke-width="1.9"/>
<line x1="54.80" y1="411.20" x2="54.80" y2="415.70" stroke="#000" stroke-width="1.9"/>
<text transform="translate(52.60,425.80) rotate(-39)" text-anchor="middle" class="xl" style="font-size:10.6px" dy="3.6">Ø</text>
<line x1="75.72" y1="411.20" x2="75.72" y2="415.70" stroke="#000" stroke-width="1.9"/>
<text transform="translate(78.72,427.60) rotate(-39)" text-anchor="end" class="xl" style="font-size:10.6px">zymosan</text>
<line x1="96.64" y1="411.20" x2="96.64" y2="415.70" stroke="#000" stroke-width="1.9"/>
<text transform="translate(99.64,427.60) rotate(-39)" text-anchor="end" class="xl" style="font-size:10.6px">ectosomes</text>
<line x1="117.56" y1="411.20" x2="117.56" y2="415.70" stroke="#000" stroke-width="1.9"/>
<text transform="translate(120.56,427.60) rotate(-39)" text-anchor="end" class="xl" style="font-size:10.6px">zym. + ectos.</text>
<line x1="138.48" y1="411.20" x2="138.48" y2="415.70" stroke="#000" stroke-width="1.9"/>
<text transform="translate(141.48,427.60) rotate(-39)" text-anchor="end" class="xl" style="font-size:10.6px">zym. + ectos. membr.</text>
<line x1="159.40" y1="411.20" x2="159.40" y2="415.70" stroke="#000" stroke-width="1.9"/>
<text transform="translate(162.40,427.60) rotate(-39)" text-anchor="end" class="xl" style="font-size:10.6px">zym. + ectos. + AnV</text>
<line x1="180.32" y1="411.20" x2="180.32" y2="415.70" stroke="#000" stroke-width="1.9"/>
<text transform="translate(178.12,425.80) rotate(-39)" text-anchor="middle" class="xl" style="font-size:10.6px" dy="3.6">Ø</text>
<line x1="201.24" y1="411.20" x2="201.24" y2="415.70" stroke="#000" stroke-width="1.9"/>
<text transform="translate(204.24,427.60) rotate(-39)" text-anchor="end" class="xl" style="font-size:10.6px">zymosan</text>
<line x1="222.16" y1="411.20" x2="222.16" y2="415.70" stroke="#000" stroke-width="1.9"/>
<text transform="translate(225.16,427.60) rotate(-39)" text-anchor="end" class="xl" style="font-size:10.6px">ectosomes</text>
<line x1="243.08" y1="411.20" x2="243.08" y2="415.70" stroke="#000" stroke-width="1.9"/>
<text transform="translate(246.08,427.60) rotate(-39)" text-anchor="end" class="xl" style="font-size:10.6px">zym. + ectos.</text>
<line x1="174.20" y1="355.20" x2="257.00" y2="355.20" stroke="#000" stroke-width="1.9"/>
<path d="M180.90,351.20 L173.10,355.20 L180.90,359.20" fill="none" stroke="#000" stroke-width="1.9" stroke-linejoin="miter" stroke-linecap="round"/>
<path d="M250.30,351.20 L258.10,355.20 L250.30,359.20" fill="none" stroke="#000" stroke-width="1.9" stroke-linejoin="miter" stroke-linecap="round"/>
<text x="230.80" y="348.50" text-anchor="middle" class="act">actD</text>
<text x="409.0" y="250.3" text-anchor="middle" class="tt">TGF<tspan class="be">β</tspan>1</text>
<text transform="translate(272.7,336.8) rotate(-90)" text-anchor="middle" class="yl" style="font-size:11.7px">TGF<tspan class="bey">β</tspan>1 in pg/mL</text>
<line x1="302.70" y1="265.70" x2="302.70" y2="411.10" stroke="#000" stroke-width="1.9"/>
<line x1="296.30" y1="266.50" x2="302.70" y2="266.50" stroke="#000" stroke-width="1.9"/>
<text transform="translate(297.10,270.10) scale(1.035,1)" text-anchor="end" class="tk">750</text>
<line x1="296.30" y1="314.43" x2="302.70" y2="314.43" stroke="#000" stroke-width="1.9"/>
<text transform="translate(297.10,318.03) scale(1.035,1)" text-anchor="end" class="tk">500</text>
<line x1="296.30" y1="362.37" x2="302.70" y2="362.37" stroke="#000" stroke-width="1.9"/>
<text transform="translate(297.10,365.97) scale(1.035,1)" text-anchor="end" class="tk">250</text>
<line x1="296.30" y1="410.30" x2="302.70" y2="410.30" stroke="#000" stroke-width="1.9"/>
<text transform="translate(297.10,413.90) scale(1.035,1)" text-anchor="end" class="tk">0</text>
<line x1="313.80" y1="405.60" x2="313.80" y2="402.20" stroke="#000" stroke-width="1.4"/>
<line x1="309.60" y1="402.20" x2="318.00" y2="402.20" stroke="#000" stroke-width="1.5"/>
<rect x="306.55" y="405.80" width="14.50" height="4.50" fill="url(#p37)" stroke="none"/>
<path d="M306.55,410.30 L306.55,405.80 L321.05,405.80 L321.05,410.30" fill="none" stroke="#000" stroke-width="1.9" stroke-linejoin="miter"/>
<line x1="335.22" y1="393.60" x2="335.22" y2="389.60" stroke="#000" stroke-width="1.4"/>
<line x1="331.02" y1="389.60" x2="339.42" y2="389.60" stroke="#000" stroke-width="1.5"/>
<rect x="327.97" y="393.80" width="14.50" height="16.50" fill="url(#p38)" stroke="none"/>
<path d="M327.97,410.30 L327.97,393.80 L342.47,393.80 L342.47,410.30" fill="none" stroke="#000" stroke-width="1.9" stroke-linejoin="miter"/>
<line x1="356.64" y1="303.80" x2="356.64" y2="284.70" stroke="#000" stroke-width="1.4"/>
<line x1="352.44" y1="284.70" x2="360.84" y2="284.70" stroke="#000" stroke-width="1.5"/>
<rect x="349.39" y="304.00" width="14.50" height="106.30" fill="url(#p39)" stroke="none"/>
<path d="M349.39,410.30 L349.39,304.00 L363.89,304.00 L363.89,410.30" fill="none" stroke="#000" stroke-width="1.9" stroke-linejoin="miter"/>
<line x1="378.06" y1="321.00" x2="378.06" y2="296.20" stroke="#000" stroke-width="1.4"/>
<line x1="373.86" y1="296.20" x2="382.26" y2="296.20" stroke="#000" stroke-width="1.5"/>
<rect x="370.81" y="321.20" width="14.50" height="89.10" fill="url(#p40)" stroke="none"/>
<path d="M370.81,410.30 L370.81,321.20 L385.31,321.20 L385.31,410.30" fill="none" stroke="#000" stroke-width="1.9" stroke-linejoin="miter"/>
<line x1="399.48" y1="293.90" x2="399.48" y2="289.60" stroke="#000" stroke-width="1.4"/>
<line x1="395.28" y1="289.60" x2="403.68" y2="289.60" stroke="#000" stroke-width="1.5"/>
<rect x="392.23" y="294.10" width="14.50" height="116.20" fill="url(#p41)" stroke="none"/>
<path d="M392.23,410.30 L392.23,294.10 L406.73,294.10 L406.73,410.30" fill="none" stroke="#000" stroke-width="1.9" stroke-linejoin="miter"/>
<line x1="420.90" y1="291.30" x2="420.90" y2="278.00" stroke="#000" stroke-width="1.4"/>
<line x1="416.70" y1="278.00" x2="425.10" y2="278.00" stroke="#000" stroke-width="1.5"/>
<rect x="413.65" y="291.50" width="14.50" height="118.80" fill="url(#p42)" stroke="none"/>
<path d="M413.65,410.30 L413.65,291.50 L428.15,291.50 L428.15,410.30" fill="none" stroke="#000" stroke-width="1.9" stroke-linejoin="miter"/>
<line x1="442.32" y1="397.50" x2="442.32" y2="390.30" stroke="#000" stroke-width="1.4"/>
<line x1="438.12" y1="390.30" x2="446.52" y2="390.30" stroke="#000" stroke-width="1.5"/>
<rect x="435.07" y="397.70" width="14.50" height="12.60" fill="url(#p43)" stroke="none"/>
<path d="M435.07,410.30 L435.07,397.70 L449.57,397.70 L449.57,410.30" fill="none" stroke="#000" stroke-width="1.9" stroke-linejoin="miter"/>
<rect x="456.49" y="391.50" width="14.50" height="18.80" fill="url(#p44)" stroke="none"/>
<path d="M456.49,410.30 L456.49,391.50 L470.99,391.50 L470.99,410.30" fill="none" stroke="#000" stroke-width="1.9" stroke-linejoin="miter"/>
<line x1="485.16" y1="294.60" x2="485.16" y2="287.00" stroke="#000" stroke-width="1.4"/>
<line x1="480.96" y1="287.00" x2="489.36" y2="287.00" stroke="#000" stroke-width="1.5"/>
<rect x="477.91" y="294.80" width="14.50" height="115.50" fill="url(#p45)" stroke="none"/>
<path d="M477.91,410.30 L477.91,294.80 L492.41,294.80 L492.41,410.30" fill="none" stroke="#000" stroke-width="1.9" stroke-linejoin="miter"/>
<line x1="506.58" y1="279.00" x2="506.58" y2="274.00" stroke="#000" stroke-width="1.4"/>
<line x1="502.38" y1="274.00" x2="510.78" y2="274.00" stroke="#000" stroke-width="1.5"/>
<rect x="499.33" y="279.20" width="14.50" height="131.10" fill="url(#p46)" stroke="none"/>
<path d="M499.33,410.30 L499.33,279.20 L513.83,279.20 L513.83,410.30" fill="none" stroke="#000" stroke-width="1.9" stroke-linejoin="miter"/>
<line x1="301.90" y1="410.30" x2="520.00" y2="410.30" stroke="#000" stroke-width="1.9"/>
<line x1="313.80" y1="410.30" x2="313.80" y2="414.80" stroke="#000" stroke-width="1.9"/>
<text transform="translate(310.80,425.50) rotate(-40.2)" text-anchor="middle" class="xl" style="font-size:10.85px" dy="3.6">Ø</text>
<line x1="335.22" y1="410.30" x2="335.22" y2="414.80" stroke="#000" stroke-width="1.9"/>
<text transform="translate(337.52,425.30) rotate(-40.2)" text-anchor="end" class="xl" style="font-size:10.85px">zymosan</text>
<line x1="356.64" y1="410.30" x2="356.64" y2="414.80" stroke="#000" stroke-width="1.9"/>
<text transform="translate(358.94,425.30) rotate(-40.2)" text-anchor="end" class="xl" style="font-size:10.85px">ectosomes</text>
<line x1="378.06" y1="410.30" x2="378.06" y2="414.80" stroke="#000" stroke-width="1.9"/>
<text transform="translate(380.36,425.30) rotate(-40.2)" text-anchor="end" class="xl" style="font-size:10.85px">zym. + ectos.</text>
<line x1="399.48" y1="410.30" x2="399.48" y2="414.80" stroke="#000" stroke-width="1.9"/>
<text transform="translate(401.78,425.30) rotate(-40.2)" text-anchor="end" class="xl" style="font-size:10.85px">zym. + ectos. membr.</text>
<line x1="420.90" y1="410.30" x2="420.90" y2="414.80" stroke="#000" stroke-width="1.9"/>
<text transform="translate(423.20,425.30) rotate(-40.2)" text-anchor="end" class="xl" style="font-size:10.85px">zym. + ectos. + AnV</text>
<line x1="442.32" y1="410.30" x2="442.32" y2="414.80" stroke="#000" stroke-width="1.9"/>
<text transform="translate(439.32,425.50) rotate(-40.2)" text-anchor="middle" class="xl" style="font-size:10.85px" dy="3.6">Ø</text>
<line x1="463.74" y1="410.30" x2="463.74" y2="414.80" stroke="#000" stroke-width="1.9"/>
<text transform="translate(466.04,425.30) rotate(-40.2)" text-anchor="end" class="xl" style="font-size:10.85px">zymosan</text>
<line x1="485.16" y1="410.30" x2="485.16" y2="414.80" stroke="#000" stroke-width="1.9"/>
<text transform="translate(487.46,425.30) rotate(-40.2)" text-anchor="end" class="xl" style="font-size:10.85px">ectosomes</text>
<line x1="506.58" y1="410.30" x2="506.58" y2="414.80" stroke="#000" stroke-width="1.9"/>
<text transform="translate(508.88,425.30) rotate(-40.2)" text-anchor="end" class="xl" style="font-size:10.85px">zym. + ectos.</text>
<line x1="431.80" y1="368.80" x2="514.20" y2="368.80" stroke="#000" stroke-width="1.9"/>
<path d="M438.50,364.80 L430.70,368.80 L438.50,372.80" fill="none" stroke="#000" stroke-width="1.9" stroke-linejoin="miter" stroke-linecap="round"/>
<path d="M507.50,364.80 L515.30,368.80 L507.50,372.80" fill="none" stroke="#000" stroke-width="1.9" stroke-linejoin="miter" stroke-linecap="round"/>
<text x="458.50" y="361.70" text-anchor="middle" class="act">actD</text>
</svg>
</body></html>
